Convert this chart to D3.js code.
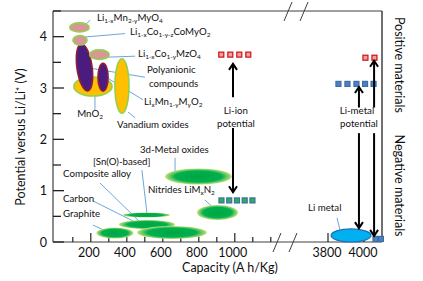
<!DOCTYPE html>
<html>
<head>
<meta charset="utf-8">
<script src="https://cdn.jsdelivr.net/npm/d3@7"></script>
<style>
  body { margin: 0; background: #fff; }
  svg { display: block; font-family: Lato, "Open Sans", sans-serif; }
</style>
</head>
<body>
<svg id="chart"></svg>
<script>
// Ellipse families: [capacity centre, potential centre, half width (A h/Kg), half height (V), rotation]
const positiveMaterials = [
  {name: 'MnO2', cap: 212, v: 3.03, hw: 106, hh: 0.185, rot: 0, kind: 'orange'},
  {name: 'Polyanionic', cap: 165, v: 3.40, hw: 42, hh: 0.46, rot: -8, kind: 'purple'},
  {name: 'LixMn1-yMyO2', cap: 268, v: 3.21, hw: 28, hh: 0.27, rot: 0, kind: 'purple'},
  {name: 'Vanadium', cap: 373, v: 3.04, hw: 39, hh: 0.53, rot: 0, kind: 'orange'},
  {name: 'LiMn2O4', cap: 137, v: 4.18, hw: 54, hh: 0.088, rot: 0, kind: 'pink'},
  {name: 'LiCoO2', cap: 140, v: 3.93, hw: 39, hh: 0.092, rot: 0, kind: 'pink'},
  {name: 'LiCoMzO4', cap: 248, v: 3.65, hw: 54, hh: 0.092, rot: 0, kind: 'pink'},
];

const negativeMaterials = [
  {name: 'Sn(O)', cap: 509, v: 0.526, hw: 131, hh: 0.049},
  {name: 'Carbon', cap: 512, v: 0.34, hw: 156, hh: 0.088},
  {name: 'Graphite', cap: 334, v: 0.175, hw: 103, hh: 0.107},
  {name: 'Composite', cap: 651, v: 0.185, hw: 194, hh: 0.127},
  {name: '3d-Metal', cap: 798, v: 1.276, hw: 186, hh: 0.156},
  {name: 'Nitrides', cap: 904, v: 0.575, hw: 114, hh: 0.146},
];

const liMetal = {cap: 3928, v: 0.127, hw: 111, hh: 0.127};

// Marker rows: capacities and potential
const liIonRed = {caps: [925, 975, 1025, 1075], v: 3.65};
const liMetalRed = {caps: [4008, 4058], v: 3.59};
const liMetalBlue = {caps: [3858, 3908, 3958, 4006, 4053], v: 3.08};
const nitrideSquares = {caps: [926, 969, 1012, 1055, 1098], v: 0.81};
const liMetalBottom = {caps: [4064, 4094], v: 0.06};

// Arrows: [capacity, from V, to V]
const arrowsLeft = [[990, 2.82, 3.47], [990, 2.22, 0.97]];
const arrowsRight = [[3972, 2.62, 3.02], [4056, 2.62, 3.53], [3972, 2.12, 0.27], [4056, 2.12, 0.12]];

const yTicks = [0, 1, 2, 3, 4];
const xTicksLeft = [200, 400, 600, 800, 1000];
const xTicksRight = [3800, 4000];

const width = 423;
const height = 281;

const svg = d3.select('#chart').attr('width', width).attr('height', height);

const y = d3.scaleLinear().domain([0, 4.5]).range([242, 11]);
const xL = d3.scaleLinear().domain([-10, 1240]).range([53, 278]);
const xR = d3.scaleLinear().domain([3650, 4100]).range([301, 382]);

const plotLeft = 53, plotRight = 382, plotTop = y(4.5), plotBottom = y(0);

// gradient for the negative (green) ellipses
const defs = svg.append('defs');
const grad = defs.append('radialGradient').attr('id', 'greenGrad');
grad.append('stop').attr('offset', '0%').attr('stop-color', '#00a640');
grad.append('stop').attr('offset', '70%').attr('stop-color', '#00b050');
grad.append('stop').attr('offset', '100%').attr('stop-color', '#c6e27a');

// frame
const frame = svg.append('g').attr('stroke', '#404040').attr('stroke-width', 1.2).attr('fill', 'none');
frame.append('line').attr('x1', plotLeft).attr('x2', plotLeft).attr('y1', plotTop).attr('y2', plotBottom);
frame.append('line').attr('x1', plotLeft).attr('x2', plotRight).attr('y1', plotBottom).attr('y2', plotBottom);
frame.append('line').attr('x1', plotLeft).attr('x2', plotRight).attr('y1', plotTop).attr('y2', plotTop);
frame.append('line').attr('x1', plotRight).attr('x2', plotRight).attr('y1', plotTop).attr('y2', plotBottom).attr('stroke', '#111');

// axis breaks
const breaks = [[277, plotBottom], [293, plotBottom], [288, plotTop], [304, plotTop]];
svg.append('g').selectAll('path').data(breaks).join('path')
    .attr('d', (d) => `M${d[0] + 4},${d[1] - 9}L${d[0] - 4},${d[1] + 10}`)
    .attr('stroke', '#404040').attr('stroke-width', 1).attr('fill', 'none');

// y ticks
const yTickVals = d3.range(0, 4.51, 0.5);
svg.append('g').selectAll('line').data(yTickVals).join('line')
    .attr('x1', plotLeft).attr('x2', (d) => plotLeft + (d % 1 === 0 ? 11 : 8))
    .attr('y1', (d) => y(d)).attr('y2', (d) => y(d))
    .attr('stroke', '#222').attr('stroke-width', 1.3);
svg.append('g').selectAll('text').data(yTicks).join('text')
    .attr('x', plotLeft - 6).attr('y', (d) => y(d)).attr('dy', '0.36em')
    .attr('text-anchor', 'end').attr('font-size', 12.5).attr('fill', '#111')
    .text((d) => d);

// x ticks
const xMinor = d3.range(100, 1201, 100);
svg.append('g').selectAll('line').data(xMinor).join('line')
    .attr('x1', (d) => xL(d)).attr('x2', (d) => xL(d))
    .attr('y1', plotBottom).attr('y2', (d) => plotBottom - (xTicksLeft.includes(d) ? 9 : 5))
    .attr('stroke', '#222').attr('stroke-width', 1.2);
svg.append('g').selectAll('line').data([3800, 3900, 4000]).join('line')
    .attr('x1', (d) => xR(d)).attr('x2', (d) => xR(d))
    .attr('y1', plotBottom).attr('y2', (d) => plotBottom - (d === 3800 ? 9 : 5))
    .attr('stroke', '#222').attr('stroke-width', 1.2);
const xLabels = xTicksLeft.map((d) => [xL(d) - 2, d]).concat(xTicksRight.map((d) => [xR(d) - 1, d]));
svg.append('g').selectAll('text').data(xLabels).join('text')
    .attr('x', (d) => d[0]).attr('y', plotBottom + 15)
    .attr('text-anchor', 'middle').attr('font-size', 12.5).attr('fill', '#111')
    .text((d) => d[1]);

// axis titles
svg.append('text').attr('x', 230).attr('y', 272).attr('text-anchor', 'middle')
    .attr('font-size', 12.5).attr('fill', '#111').text('Capacity (A h/Kg)');
svg.append('text').attr('transform', 'translate(25,137) rotate(-90)')
    .attr('text-anchor', 'middle').attr('font-size', 12.5).attr('fill', '#111')
    .text('Potential versus Li/Li\u207A (V)');
svg.append('text').attr('transform', `translate(395,${y(3.45)}) rotate(90)`)
    .attr('text-anchor', 'middle').attr('font-size', 12.5).attr('fill', '#111')
    .text('Positive materials');
svg.append('text').attr('transform', `translate(395,${y(1.1)}) rotate(90)`)
    .attr('text-anchor', 'middle').attr('font-size', 12.5).attr('fill', '#111')
    .text('Negative materials');

// leader lines (drawn under the ellipses)
const leadersLeft = [
  [157, 4.19, 196, 4.32], [157, 3.99, 390, 4.06], [290, 3.60, 446, 3.62],
  [157, 3.41, 501, 3.21], [290, 3.20, 490, 2.77], [223, 2.86, 223, 2.57],
  [407, 2.53, 446, 2.42], [668, 1.64, 668, 1.38], [484, 1.40, 512, 0.565],
  [251, 1.15, 473, 0.39], [212, 0.80, 568, 0.175], [212, 0.33, 262, 0.25],
  [834, 0.82, 907, 0.58],
];
const leaders = svg.append('g').attr('stroke', '#5b9bd5').attr('stroke-width', 0.9);
leaders.selectAll('line.l').data(leadersLeft).join('line').attr('class', 'l')
    .attr('x1', (d) => xL(d[0])).attr('y1', (d) => y(d[1]))
    .attr('x2', (d) => xL(d[2])).attr('y2', (d) => y(d[3]));

// negative ellipses
svg.append('g').selectAll('ellipse').data(negativeMaterials).join('ellipse')
    .attr('cx', (d) => xL(d.cap)).attr('cy', (d) => y(d.v))
    .attr('rx', (d) => xL(d.cap + d.hw) - xL(d.cap))
    .attr('ry', (d) => y(d.v - d.hh) - y(d.v))
    .attr('fill', 'url(#greenGrad)');

// positive ellipses
const styles = {
  orange: {fill: '#ffc000', stroke: '#92d050'},
  purple: {fill: '#4a1c80', stroke: '#8e1d3c'},
  pink: {fill: '#d99694', stroke: '#92d050'},
};
svg.append('g').selectAll('ellipse').data(positiveMaterials).join('ellipse')
    .attr('transform', (d) => `translate(${xL(d.cap)},${y(d.v)}) rotate(${d.rot})`)
    .attr('rx', (d) => xL(d.cap + d.hw) - xL(d.cap))
    .attr('ry', (d) => y(d.v - d.hh) - y(d.v))
    .attr('fill', (d) => styles[d.kind].fill)
    .attr('stroke', (d) => styles[d.kind].stroke)
    .attr('stroke-width', 1.6);

// Li metal
svg.append('line').attr('x1', xR(3850)).attr('y1', y(0.47)).attr('x2', xR(3867)).attr('y2', y(0.23))
    .attr('stroke', '#5b9bd5').attr('stroke-width', 0.9);
svg.append('ellipse')
    .attr('cx', xR(liMetal.cap)).attr('cy', y(liMetal.v))
    .attr('rx', xR(liMetal.cap + liMetal.hw) - xR(liMetal.cap))
    .attr('ry', y(liMetal.v - liMetal.hh) - y(liMetal.v))
    .attr('fill', '#00b0f0').attr('stroke', '#1f6fb8').attr('stroke-width', 1.2);

// square markers
function squares(row, scale, fill, stroke) {
  svg.append('g').selectAll('rect').data(row.caps).join('rect')
      .attr('x', (d) => scale(d) - 2.5).attr('y', y(row.v) - 2.5)
      .attr('width', 5).attr('height', 5)
      .attr('fill', fill).attr('stroke', stroke).attr('stroke-width', 1.2);
}
squares(liIonRed, xL, '#f4a0a0', '#d01010');
squares(liMetalRed, xR, '#f4a0a0', '#d01010');
squares(liMetalBlue, xR, '#4f81bd', '#3a6ea8');
squares(nitrideSquares, xL, '#2fb050', '#3a6ea8');
squares(liMetalBottom, xR, '#4f81bd', '#3a6ea8');

// arrows
function arrow(scale, d) {
  const x0 = scale(d[0]);
  const y0 = y(d[1]);
  const y1 = y(d[2]);
  const dir = y1 < y0 ? 1 : -1;
  const g = svg.append('g').attr('stroke', '#000').attr('stroke-width', 2).attr('fill', 'none');
  g.append('line').attr('x1', x0).attr('x2', x0).attr('y1', y0).attr('y2', y1);
  g.append('path').attr('d', `M${x0 - 4},${y1 + dir * 6}L${x0},${y1}L${x0 + 4},${y1 + dir * 6}`);
}
arrowsLeft.forEach((d) => arrow(xL, d));
arrowsRight.forEach((d) => arrow(xR, d));

// text labels with subscripts
function label(x, yv, parts, anchor) {
  const t = svg.append('text').attr('x', x).attr('y', y(yv)).attr('dy', '0.35em')
      .attr('font-size', 9.7).attr('fill', '#111').attr('text-anchor', anchor || 'start');
  let shift = 0;
  parts.forEach((p) => {
    const isSub = Array.isArray(p);
    const target = isSub ? 2 : 0;
    t.append('tspan').attr('dy', target - shift)
        .attr('font-size', isSub ? 6.5 : 9.7)
        .text(isSub ? p[0] : p);
    shift = target;
  });
}
label(xL(234), 4.30, ['Li', ['1-x'], 'Mn', ['2-y'], 'MyO', ['4']]);
label(xL(418), 4.04, ['Li', ['1-x'], 'Co', ['1-y-z'], 'CoMyO', ['2']]);
label(xL(462), 3.60, ['Li', ['1-x'], 'Co', ['1-y'], 'MzO', ['4']]);
label(xL(512), 3.29, ['Polyanionic']);
label(xL(523), 3.02, ['compounds']);
label(xL(496), 2.67, ['Li', ['x'], 'Mn', ['1-y'], 'M', ['y'], 'O', ['2']]);
label(xL(196), 2.435, ['MnO', ['2']], 'middle');
label(xL(346), 2.22, ['Vanadium oxides']);
label(xL(473), 1.73, ['3d-Metal oxides']);
label(xL(212), 1.50, ['[Sn(O)-based]']);
label(xL(46), 1.27, ['Composite alloy']);
label(xL(46), 0.78, ['Carbon']);
label(xL(46), 0.49, ['Graphite']);
label(xL(518), 0.955, ['Nitrides LiM', ['x'], 'N', ['2']]);
label(xR(3689), 0.60, ['Li metal']);
label(xL(1006), 2.49, ['Li-ion'], 'middle');
label(xL(1006), 2.24, ['potential'], 'middle');
label(xR(3961), 2.49, ['Li-metal'], 'middle');
label(xR(3972), 2.24, ['potential'], 'middle');
</script>
</body>
</html>
